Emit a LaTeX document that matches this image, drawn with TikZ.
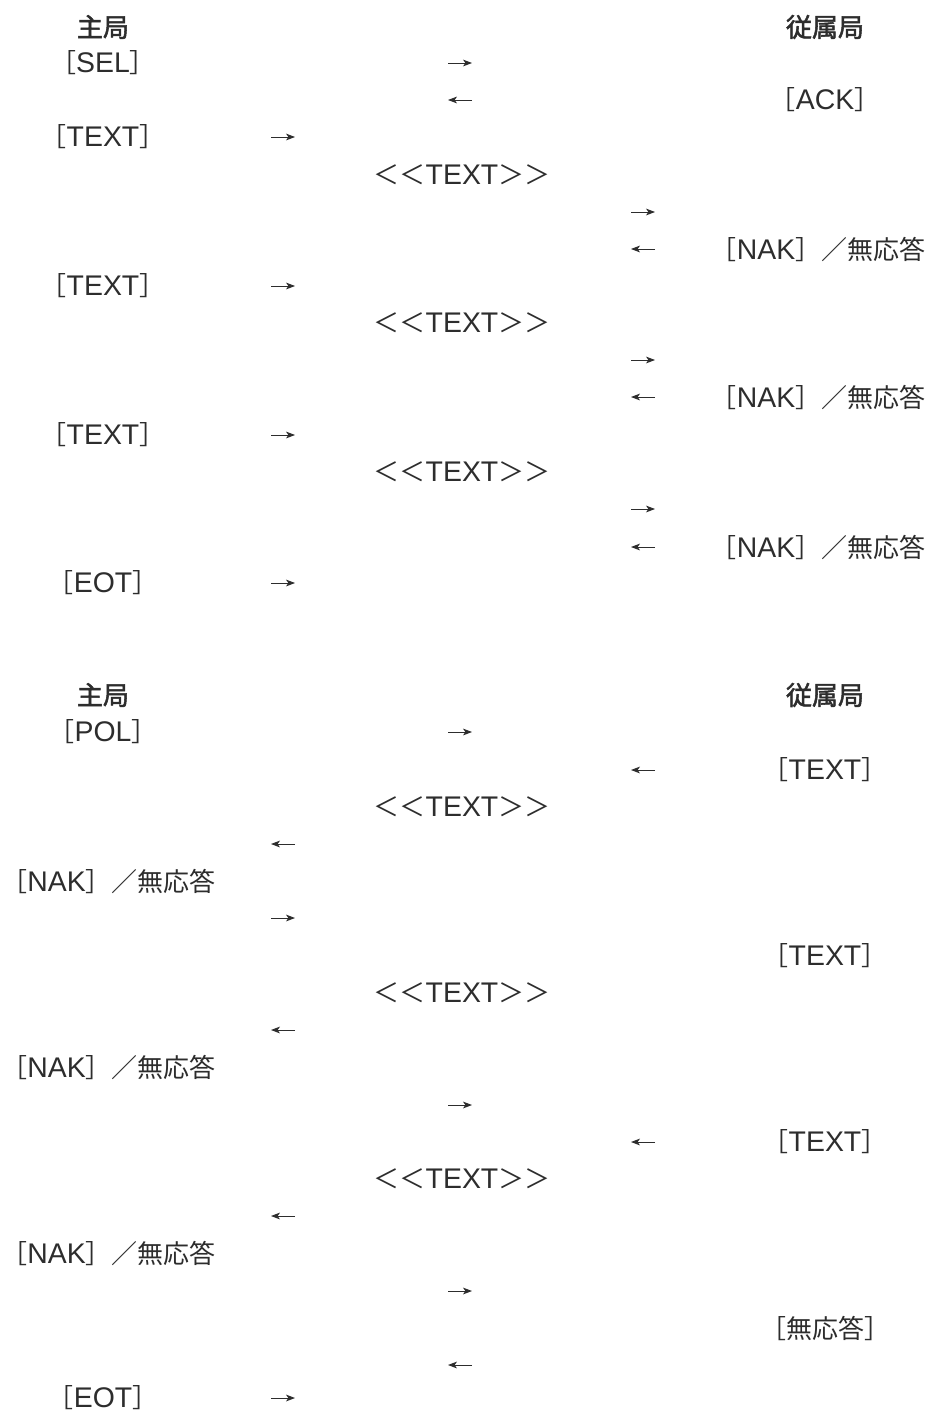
\documentclass[tikz,border=0pt]{standalone}
\usepackage{fontspec}
\setmainfont{Noto Sans CJK JP}
\newfontfamily\hdrfont[FakeBold=2]{Noto Sans CJK JP}
\newfontfamily\latfont{Liberation Sans}
\newcommand{\lat}[1]{{\latfont\fontsize{14.2}{14.2}\selectfont #1}}
\usetikzlibrary{arrows.meta}
\definecolor{ink}{RGB}{45,45,45}
\begin{document}
\begin{tikzpicture}[x=0.5pt,y=-0.5pt,
	lbl/.style={text=ink,inner sep=0pt,font=\fontsize{13}{13}\selectfont},
	hdr/.style={lbl,font=\fontsize{13}{13}\selectfont\hdrfont},
	lnak/.style={lbl,anchor=west},
	msg/.style={draw=ink,line width=0.45pt,-{Stealth[length=4.5pt,width=3.4pt,inset=1.2pt]}}]
			\useasboundingbox (0,0) rectangle (928,1414);
			% selecting
			\node[hdr] (mas1) at (103,27) {主局};
			\node[hdr] (sla1) at (825,27) {従属局};
			\node[lbl] (sel) at (103,63) {［\lat{SEL}］};
			\draw[msg] (448,63) -- (472,63);
			\draw[msg] (472,100) -- (448,100);
			\node[lbl] (ack) at (825,100) {［\lat{ACK}］};
			\node[lbl] (txa1) at (103,137) {［\lat{TEXT}］};
			\draw[msg] (271,137) -- (295,137);
			\node[lbl] (blk1) at (462,175) {＜＜\lat{TEXT}＞＞};
			\draw[msg] (631,212) -- (655,212);
			\draw[msg] (655,249) -- (631,249);
			\node[lbl] (nak1) at (818,249) {［\lat{NAK}］／無応答};
			\node[lbl] (txa2) at (103,286) {［\lat{TEXT}］};
			\draw[msg] (271,286) -- (295,286);
			\node[lbl] (blk2) at (462,323) {＜＜\lat{TEXT}＞＞};
			\draw[msg] (631,360) -- (655,360);
			\draw[msg] (655,397) -- (631,397);
			\node[lbl] (nak2) at (818,397) {［\lat{NAK}］／無応答};
			\node[lbl] (txa3) at (103,435) {［\lat{TEXT}］};
			\draw[msg] (271,435) -- (295,435);
			\node[lbl] (blk3) at (462,472) {＜＜\lat{TEXT}＞＞};
			\draw[msg] (631,509) -- (655,509);
			\draw[msg] (655,547) -- (631,547);
			\node[lbl] (nak3) at (818,547) {［\lat{NAK}］／無応答};
			\node[lbl] (eot1) at (103,583) {［\lat{EOT}］};
			\draw[msg] (271,583) -- (295,583);
			% polling
			\node[hdr] (mas2) at (103,695) {主局};
			\node[hdr] (sla2) at (825,695) {従属局};
			\node[lbl] (pol) at (103,732) {［\lat{POL}］};
			\draw[msg] (448,732) -- (472,732);
			\draw[msg] (655,770) -- (631,770);
			\node[lbl] (txb1) at (825,770) {［\lat{TEXT}］};
			\node[lbl] (blk4) at (462,807) {＜＜\lat{TEXT}＞＞};
			\draw[msg] (295,844) -- (271,844);
			\node[lnak] (nak4) at (14,881) {\kern-0.5em［\lat{NAK}］／無応答};
			\draw[msg] (271,918) -- (295,918);
			\node[lbl] (txb2) at (825,956) {［\lat{TEXT}］};
			\node[lbl] (blk5) at (462,993) {＜＜\lat{TEXT}＞＞};
			\draw[msg] (295,1030) -- (271,1030);
			\node[lnak] (nak5) at (14,1067) {\kern-0.5em［\lat{NAK}］／無応答};
			\draw[msg] (448,1105) -- (472,1105);
			\draw[msg] (655,1142) -- (631,1142);
			\node[lbl] (txb3) at (825,1142) {［\lat{TEXT}］};
			\node[lbl] (blk6) at (462,1179) {＜＜\lat{TEXT}＞＞};
			\draw[msg] (295,1216) -- (271,1216);
			\node[lnak] (nak6) at (14,1253) {\kern-0.5em［\lat{NAK}］／無応答};
			\draw[msg] (448,1291) -- (472,1291);
			\node[lbl] (none) at (825,1328) {［無応答］};
			\draw[msg] (472,1365) -- (448,1365);
			\node[lbl] (eot2) at (103,1398) {［\lat{EOT}］};
			\draw[msg] (271,1398) -- (295,1398);
\end{tikzpicture}
\end{document}
